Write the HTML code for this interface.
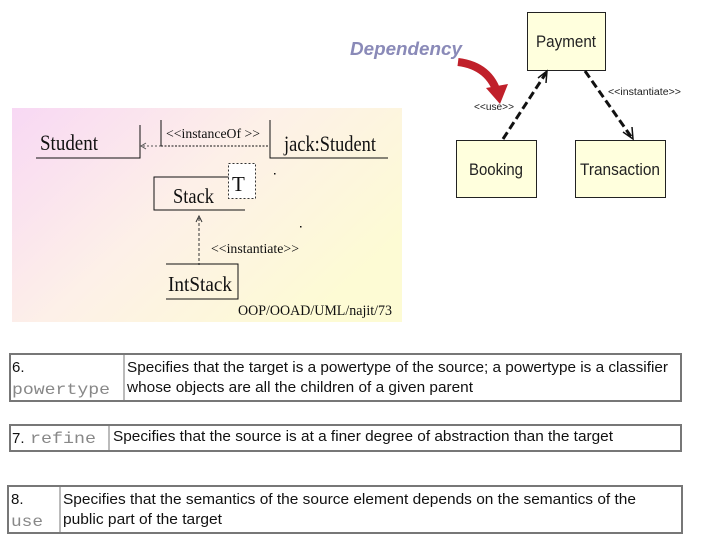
<!DOCTYPE html>
<html><head><style>body{margin:0;background:#fff}svg{display:block}</style></head><body>
<svg width="720" height="540" xmlns="http://www.w3.org/2000/svg">
<defs>
<linearGradient id="g" x1="0" y1="0" x2="1" y2="0.6">
<stop offset="0" stop-color="#f8d8f4"/><stop offset="0.5" stop-color="#fdf0e8"/><stop offset="1" stop-color="#fdfbd4"/>
</linearGradient>
</defs>
<rect x="12" y="108" width="390" height="214" fill="url(#g)"/>
<g font-family="Liberation Serif, serif" fill="#111">
<text x="40" y="150" font-size="22" textLength="58" lengthAdjust="spacingAndGlyphs">Student</text>
<path d="M36 158H140V125" stroke="#111" fill="none"/>
<path d="M143 146H161" stroke="#555" stroke-dasharray="2,2"/>
<path d="M146 143L141 146L146 149" stroke="#555" fill="none"/>
<path d="M161 120V146" stroke="#111"/>
<path d="M161 146H270" stroke="#111" stroke-dasharray="2,1.5"/>
<text x="166" y="138" font-size="14" textLength="94" lengthAdjust="spacingAndGlyphs">&lt;&lt;instanceOf &gt;&gt;</text>
<path d="M270 120V158H388" stroke="#111" fill="none"/>
<text x="284" y="151" font-size="22" textLength="92" lengthAdjust="spacingAndGlyphs">jack:Student</text>
<path d="M244 177H154V210H245" stroke="#111" fill="none"/>
<rect x="228.5" y="163.5" width="27" height="35" fill="#fff" stroke="#333" stroke-dasharray="2,2"/>
<text x="173" y="203" font-size="21" textLength="41" lengthAdjust="spacingAndGlyphs">Stack</text>
<text x="232" y="191" font-size="21">T</text>
<path d="M199 218V265" stroke="#333" stroke-dasharray="3,2"/>
<path d="M196 222L199 216L202 222" stroke="#333" fill="none"/>
<text x="211" y="253" font-size="14" textLength="88" lengthAdjust="spacingAndGlyphs">&lt;&lt;instantiate&gt;&gt;</text>
<path d="M166 264H238V299H166" stroke="#111" fill="none"/>
<text x="168" y="291" font-size="21" textLength="64" lengthAdjust="spacingAndGlyphs">IntStack</text>
<text x="238" y="315" font-size="15" textLength="154" lengthAdjust="spacingAndGlyphs">OOP/OOAD/UML/najit/73</text>
<rect x="274" y="173" width="1.5" height="1.5"/><rect x="300" y="226" width="1.5" height="1.5"/>
</g>
<g font-family="Liberation Sans, sans-serif">
<text x="350" y="55" font-size="18" font-weight="bold" font-style="italic" fill="#8a8ab8" textLength="112" lengthAdjust="spacingAndGlyphs">Dependency</text>
<path d="M458 62Q490 66 498 95" stroke="#c0202a" stroke-width="8" fill="none"/>
<path d="M486 88L500 104L508 84Z" fill="#c0202a"/>
<rect x="527.5" y="12.5" width="78" height="58" fill="#ffffdd" stroke="#222"/>
<rect x="456.5" y="140.5" width="80" height="57" fill="#ffffdd" stroke="#222"/>
<rect x="575.5" y="140.5" width="90" height="57" fill="#ffffdd" stroke="#222"/>
<text x="566" y="47" font-size="17" text-anchor="middle" fill="#222" textLength="60" lengthAdjust="spacingAndGlyphs">Payment</text>
<text x="496" y="175" font-size="17" text-anchor="middle" fill="#222" textLength="54" lengthAdjust="spacingAndGlyphs">Booking</text>
<text x="620" y="175" font-size="17" text-anchor="middle" fill="#222" textLength="80" lengthAdjust="spacingAndGlyphs">Transaction</text>
<path d="M503 139L546 73" stroke="#111" stroke-width="3" stroke-dasharray="8,4"/>
<path d="M538 78L547 71L546 83" stroke="#111" stroke-width="1.5" fill="none"/>
<path d="M585 71L632 138" stroke="#111" stroke-width="3" stroke-dasharray="8,4"/>
<path d="M623 132L633 139L632 127" stroke="#111" stroke-width="1.5" fill="none"/>
<text x="474" y="110" font-size="10" fill="#222" textLength="40" lengthAdjust="spacingAndGlyphs">&lt;&lt;use&gt;&gt;</text>
<text x="608" y="95" font-size="10" fill="#222" textLength="73" lengthAdjust="spacingAndGlyphs">&lt;&lt;instantiate&gt;&gt;</text>
</g>
<g font-family="Liberation Sans, sans-serif" font-size="15" fill="#111">
<rect x="10" y="354" width="671" height="47" fill="#fff" stroke="#777" stroke-width="2"/>
<path d="M124 354V401" stroke="#777"/>
<text x="12" y="372">6.</text>
<text x="12" y="394" font-family="Liberation Mono, monospace" font-size="16" fill="#888" textLength="98" lengthAdjust="spacingAndGlyphs">powertype</text>
<text x="127" y="372" textLength="541" lengthAdjust="spacingAndGlyphs">Specifies that the target is a powertype of the source; a powertype is a classifier</text>
<text x="127" y="392" textLength="346" lengthAdjust="spacingAndGlyphs">whose objects are all the children of a given parent</text>
<rect x="10" y="425" width="671" height="26" fill="#fff" stroke="#777" stroke-width="2"/>
<path d="M109 425V451" stroke="#777"/>
<text x="12" y="443">7.</text>
<text x="30" y="443" font-family="Liberation Mono, monospace" font-size="16" fill="#888" textLength="66" lengthAdjust="spacingAndGlyphs">refine</text>
<text x="113" y="441" textLength="500" lengthAdjust="spacingAndGlyphs">Specifies that the source is at a finer degree of abstraction than the target</text>
<rect x="8" y="486" width="674" height="47" fill="#fff" stroke="#777" stroke-width="2"/>
<path d="M60 486V533" stroke="#777"/>
<text x="11" y="504">8.</text>
<text x="11" y="526" font-family="Liberation Mono, monospace" font-size="16" fill="#888" textLength="32" lengthAdjust="spacingAndGlyphs">use</text>
<text x="63" y="504" textLength="573" lengthAdjust="spacingAndGlyphs">Specifies that the semantics of the source element depends on the semantics of the</text>
<text x="63" y="524" textLength="159" lengthAdjust="spacingAndGlyphs">public part of the target</text>
</g>
</svg>
</body></html>
